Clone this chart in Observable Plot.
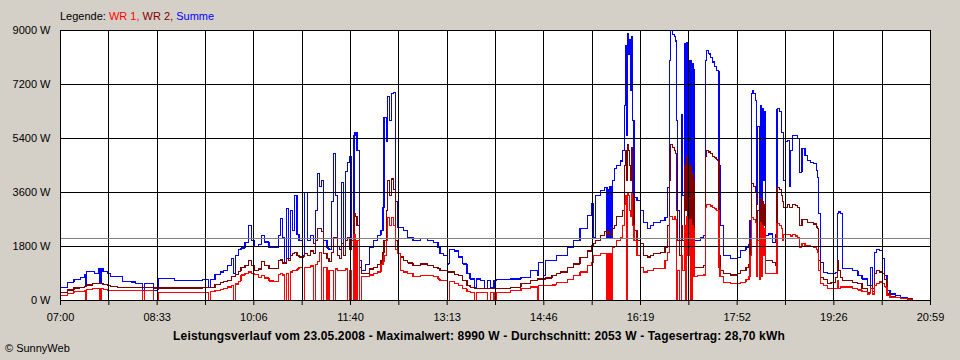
<!DOCTYPE html>
<html><head><meta charset="utf-8">
<script src="https://cdn.jsdelivr.net/npm/d3@7"></script>
<script src="https://cdn.jsdelivr.net/npm/@observablehq/plot@0.6"></script>
<style>
body{margin:0;background:#D4D0C8;}
#wrap{position:relative;width:960px;height:360px;background:#D4D0C8;font-family:"Liberation Sans",Arial,sans-serif;font-size:11px;color:#000;overflow:hidden}
#chart{position:absolute;left:0;top:0}
#legend{position:absolute;left:60px;top:9px;white-space:nowrap;line-height:14px}
#caption{position:absolute;left:0;width:958px;text-align:center;top:329px;font-weight:bold;font-size:12px;letter-spacing:0.15px;white-space:nowrap;line-height:15px}
#copy{position:absolute;left:5px;top:341px;white-space:nowrap;line-height:14px}
</style></head>
<body><div id="wrap">
<div id="chart"></div>
<div id="legend">Legende: <span style="color:#FF0000">WR 1,</span> <span style="color:#800000">WR 2,</span> <span style="color:#0000FF">Summe</span></div>
<div id="caption">Leistungsverlauf vom 23.05.2008 - Maximalwert: 8990 W - Durchschnitt: 2053 W - Tagesertrag: 28,70 kWh</div>
<div id="copy">© SunnyWeb</div>
</div>
<script>
const times = ["07:00","07:07","07:13","07:19","07:23","07:24","07:25","07:31","07:33","07:37","07:38","07:39","07:41","07:45","07:48","07:55","08:00","08:08","08:12","08:19","08:21","08:30","08:34","08:50","09:05","09:17","09:23","09:25","09:29","09:34","09:37","09:41","09:45","09:47","09:49","09:52",
"09:54","09:58","10:01","10:04","10:07","10:11","10:14","10:17","10:21","10:26","10:30","10:32","10:34","10:36","10:38","10:40","10:42","10:44","10:46","10:48","10:50","10:53","10:55","10:58","11:01","11:04","11:06","11:08","11:10","11:12","11:14","11:17","11:19","11:21","11:23","11:25","11:27","11:29","11:31","11:33","11:35","11:37","11:39","11:41","11:43","11:44","11:46","11:48","11:50","11:54","11:58","12:02","12:06","12:09","12:11","12:12","12:14","12:15","12:17","12:19","12:21","12:23","12:25","12:28","12:31","12:35","12:40",
"12:47","12:54","13:00","13:04","13:06","13:09","13:13","13:15","13:20","13:24","13:28","13:32","13:35","13:39","13:41","13:45","13:49","13:52","13:55","13:58","14:00","14:04","14:14","14:24","14:33","14:40","14:41","14:46","14:48","14:54","14:58",
"15:02","15:09","15:15","15:21","15:28","15:32","15:34","15:36","15:41","15:45","15:47","15:48","15:49","15:50","15:51","15:52","15:54","15:56","16:00","16:02","16:04","16:05","16:06","16:07","16:08","16:09","16:10","16:11","16:12","16:13","16:16","16:19","16:22","16:26","16:29","16:32","16:39","16:43","16:45","16:47","16:48","16:50","16:52","16:53","16:54","16:55","16:57","16:59","17:00","17:02","17:03","17:04","17:05","17:07","17:08","17:09","17:10","17:11","17:14","17:17","17:20","17:22","17:23","17:25","17:27","17:29","17:31","17:33","17:34","17:35","17:36","17:39","17:46","17:53",
"17:56","18:01","18:04","18:05","18:06","18:07","18:08","18:10","18:11","18:12","18:14","18:15","18:16","18:17","18:18","18:19","18:20","18:23","18:27","18:30","18:31","18:33","18:35","18:36","18:37","18:39","18:41","18:43","18:44","18:46","18:49","18:51","18:53","18:55","18:58","19:00","19:03","19:06","19:09","19:10","19:11","19:13","19:16","19:20","19:23","19:27","19:29","19:30","19:32","19:34","19:39","19:44","19:49","19:53","19:58","20:01","20:03","20:05","20:07","20:10","20:13","20:15","20:17","20:20","20:25","20:30","20:37","20:42"];

const wr1 = [170,245,300,300,320,0,380,390,390,390,0,390,380,340,330,330,330,330,330,0,330,0,280,280,280,280,0,290,330,360,390,450,500,0,550,640,
850,900,950,900,880,760,830,750,650,640,870,900,850,0,900,0,950,1000,1000,1050,1110,0,1110,1100,1150,0,1200,1300,1610,0,1100,0,1000,1000,0,1050,1000,1000,1000,1000,1050,0,1000,0,2200,0,2000,0,800,800,850,900,950,1200,1300,1500,2000,2780,2500,2780,2500,1700,1560,1000,950,900,800,
830,830,800,720,670,670,0,640,560,500,390,300,280,0,280,280,280,0,280,0,280,280,330,400,450,0,500,500,500,520,600,
610,700,830,950,1170,1280,1500,1500,1560,1560,0,1560,0,1560,0,1780,1800,2000,2100,2500,3200,3500,0,3600,3500,3000,2800,3600,2500,2000,1500,1110,950,1000,1000,1060,1060,1330,1600,2800,2800,2700,2800,2700,0,1000,0,1500,1000,2500,0,2800,1500,2700,0,2500,2400,800,830,830,850,3100,3200,3200,3150,3100,3050,3000,3000,1100,800,610,560,560,
610,700,800,1500,2780,2780,2700,2600,800,2000,700,2600,800,2500,1500,2400,900,900,900,900,2560,2500,2400,2000,2200,2200,2200,2200,2150,2200,2150,2100,1780,1900,1830,1830,1800,1780,1700,1600,1000,560,500,390,390,390,667,400,450,450,450,400,350,300,220,400,220,500,580,620,560,450,170,100,90,60,40,20];

const wr2 = [280,350,420,440,480,480,520,560,560,560,560,560,540,500,470,440,440,440,440,440,440,420,420,420,420,440,440,440,540,600,640,667,800,800,880,980,
1110,1170,1330,1170,1000,1050,1300,1170,1060,1060,1330,1350,1250,1250,1400,1330,1500,1560,1600,1500,1450,1450,1560,1500,1650,1560,2000,2400,2400,2300,1560,1400,1300,1600,2100,2110,1500,1400,1900,1500,2000,2100,1700,2000,2900,2800,2500,1100,900,900,1050,1100,1200,1330,1600,2000,3000,4000,3500,4050,3700,2000,1560,1450,1330,1250,1170,
1220,1170,1110,1060,1000,1000,950,950,880,830,670,500,440,390,390,390,390,390,390,390,390,390,440,560,670,720,720,720,750,830,900,
950,1100,1220,1440,1650,1830,1900,2000,2170,2300,2200,2300,2200,2200,2170,2400,2500,2800,2800,3000,4500,5000,4000,5200,5000,4500,4000,5100,3500,2330,2000,1890,1500,1450,1500,1560,1610,1780,2500,4000,5200,5100,5000,4900,3000,2000,1500,2500,2000,4500,3000,4800,2500,4500,2000,4200,4000,1110,1110,1110,1170,4800,5000,4950,4900,4800,4750,4700,4650,1500,1000,900,850,900,
1000,1110,1200,2000,3900,3900,3800,3600,1400,3000,1200,3400,1500,3300,2500,3200,1330,1330,1280,1170,3780,3700,3500,3300,3100,3100,3200,3100,3100,3200,3170,3100,2500,2700,2700,2600,2600,2550,2450,2400,1330,780,700,560,600,780,1330,1000,780,670,667,600,560,400,280,500,300,900,1000,950,890,700,220,130,100,80,50,30];

const summe = [440,610,690,780,850,480,980,980,890,1060,560,1060,960,890,800,800,640,620,580,333,570,340,740,670,670,700,440,700,880,950,1000,1170,1400,900,1500,1700,
1750,1930,2500,2000,1800,1870,2170,1950,1780,1780,2170,2730,2100,1250,3070,1400,3000,2330,3500,2200,2000,1500,3600,2000,2170,1900,3000,4230,3800,4000,2000,1750,1700,3300,4890,3500,1800,1700,3940,1800,4300,4610,4800,2000,5500,5600,5000,1330,1000,1200,1780,2000,2170,2330,3100,6100,5300,6800,6000,6900,6930,3300,2440,2440,2330,2100,2000,
2060,2000,1940,1780,1560,1500,1220,1700,1650,1450,1220,890,720,440,720,670,390,670,420,670,700,700,720,780,1000,830,1280,830,1330,1330,1500,
1500,1780,2000,2390,2830,3230,2100,3500,3670,3780,2100,3700,2100,3800,2100,4000,4400,4500,4650,5000,6500,8500,5500,8900,8200,8700,7000,8800,6000,3430,3330,3000,2610,2390,2500,2610,2670,2780,3770,8000,8990,8870,8800,8650,6000,3000,2000,6200,3500,8550,4000,8600,4000,8000,3000,7900,7700,2000,2000,2100,2170,8000,8330,8220,8100,7950,7800,7670,7650,4500,2500,1500,1400,1440,
1670,1780,1890,2670,6900,7000,6900,6670,3200,5800,3000,6500,2500,6400,4000,6300,2170,2220,1940,2220,6390,6300,5600,5600,4000,5300,5330,3800,5000,5500,5500,5400,4270,5060,4830,4670,4610,4560,4330,4100,2900,1270,940,900,910,940,2900,2950,2890,1060,1060,1000,830,720,500,1110,390,1600,1700,1660,1390,830,330,220,170,110,55,30];

const yTicks = [0, 1800, 3600, 5400, 7200, 9000];
const xTickLabels = ["07:00","08:33","10:06","11:40","13:13","14:46","16:19","17:52","19:26","20:59"];
const average = 2053;
const seriesNames = ["Summe", "WR 2", "WR 1"];
const seriesColors = ["#0000FF", "#800000", "#FF0000"];

const toMin = s => { const [h, m] = s.split(":").map(Number); return h * 60 + m; };
const startMin = toMin(xTickLabels[0]);
const endMin = toMin(xTickLabels[xTickLabels.length - 1]);
const nGrid = (xTickLabels.length - 1) * 2;
const gridTicks = d3.range(nGrid + 1).map(i => startMin + i * (endMin - startMin) / nGrid);
const labelStep = (endMin - startMin) / (xTickLabels.length - 1);
const labelTicks = xTickLabels.map((_, i) => startMin + i * labelStep);

const valuesByName = {"Summe": summe, "WR 2": wr2, "WR 1": wr1};
const lineMarks = seriesNames.map((name, k) => {
  const vals = valuesByName[name];
  const rows = times.map((t, i) => ({t: toMin(t), v: vals[i]}));
  return Plot.lineY(rows, {x: "t", y: "v", stroke: seriesColors[k], strokeWidth: 1.2, curve: "step-after", shapeRendering: "crispEdges"});
});

const chart = Plot.plot({
  width: 960, height: 360,
  marginTop: 30, marginBottom: 60, marginLeft: 60, marginRight: 30,
  style: {background: "transparent", fontFamily: "'Liberation Sans', Arial, sans-serif", fontSize: "11px", color: "black"},
  x: {type: "linear", domain: [startMin, endMin], label: null},
  y: {domain: [0, 9000], label: null},
  marks: [
    Plot.frame({fill: "white", stroke: null}),
    ...lineMarks,
    Plot.gridY(yTicks, {stroke: "black", strokeOpacity: 1, shapeRendering: "crispEdges"}),
    Plot.gridX(gridTicks, {stroke: "black", strokeOpacity: 1, shapeRendering: "crispEdges"}),
    Plot.ruleY([average], {stroke: "#808080", shapeRendering: "crispEdges"}),
    Plot.frame({stroke: "black", shapeRendering: "crispEdges"}),
    Plot.axisY(yTicks, {tickSize: 0, tickPadding: 10, tickFormat: d => d + " W", fill: "black", fontSize: 11}),
    Plot.axisX(gridTicks, {tickSize: 5, tickFormat: () => "", stroke: "black", strokeOpacity: 1}),
    Plot.axisX(labelTicks, {tickSize: 0, tickPadding: 13, fill: "black", fontSize: 11,
      tickFormat: d => xTickLabels[Math.round((d - startMin) / labelStep)]})
  ]
});
document.getElementById("chart").appendChild(chart);
</script>
</body></html>
